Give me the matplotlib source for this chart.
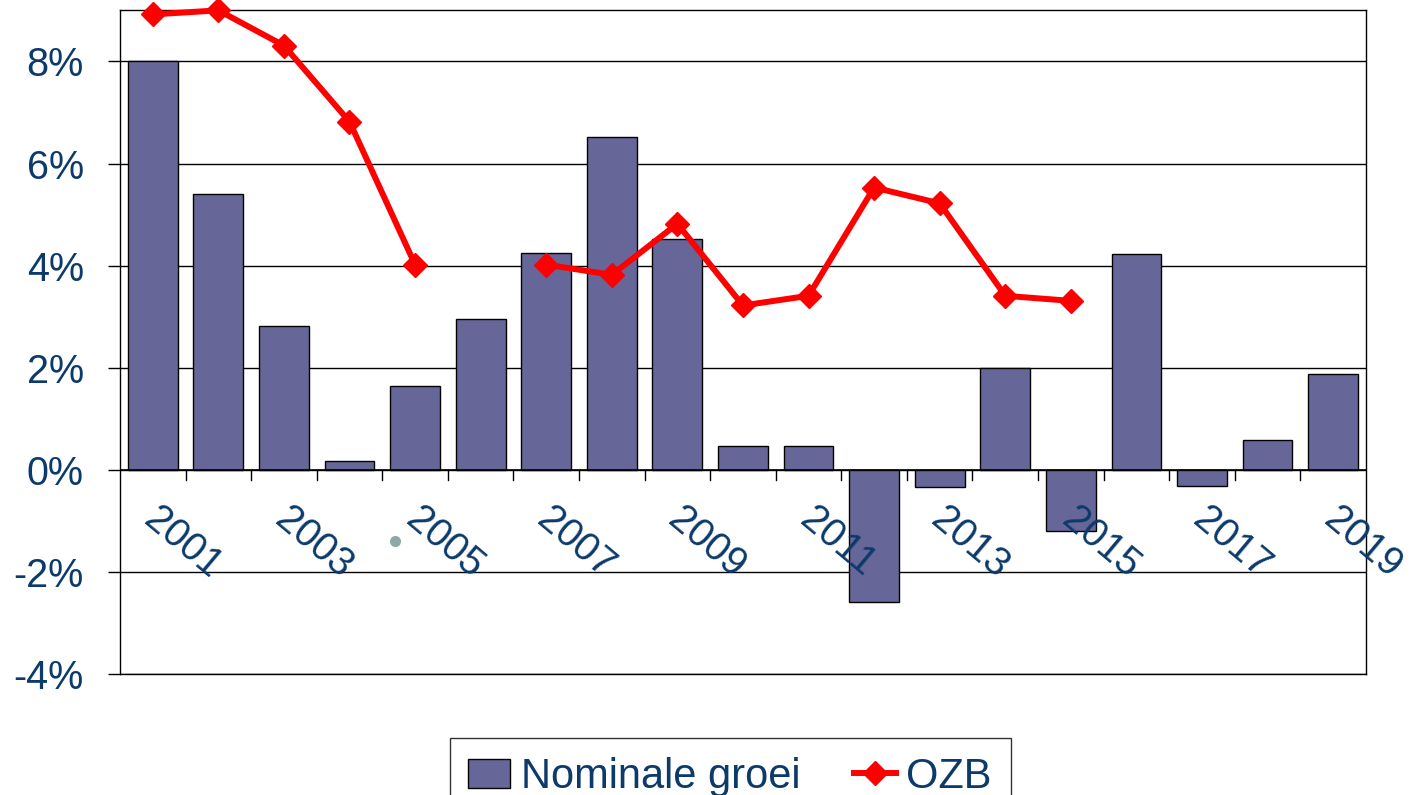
import numpy as np
import matplotlib.pyplot as plt
from matplotlib.ticker import FuncFormatter

plt.rcParams['font.family'] = ['Liberation Sans', 'DejaVu Sans']

years = list(range(2001, 2020))
nominale_groei = [8.0, 5.4, 2.82, 0.17, 1.65, 2.96, 4.24, 6.51, 4.53, 0.47,
                  0.47, -2.59, -0.33, 2.0, -1.2, 4.22, -0.31, 0.59, 1.88]
ozb = [8.92, 9.0, 8.31, 6.82, 4.02, np.nan, 4.02, 3.82, 4.82, 3.22,
       3.41, 5.53, 5.22, 3.41, 3.31, np.nan, np.nan, np.nan, np.nan]
label_years = years[::2]

navy = '#0b3a6b'
fs = 28.5
x = np.arange(len(years))

fig = plt.figure(figsize=(14.13, 7.95), dpi=100)
ax = fig.add_axes([0.0849, 0.152, 0.8818, 0.835])

ax.set_axisbelow(True)
ax.yaxis.grid(True, color='black', linewidth=1.0)
bars = ax.bar(x, nominale_groei, width=0.76, color='#666699', edgecolor='black',
              linewidth=1.0, label='Nominale groei', zorder=2)
line, = ax.plot(x, ozb, color='red', linewidth=4.3, marker='D', markersize=12.5,
                label='OZB', zorder=3, clip_on=False)

ax.set_xlim(-0.5, len(years) - 0.5)
ax.set_ylim(-4, 9)
ax.set_yticks([-4, -2, 0, 2, 4, 6, 8])
ax.yaxis.set_major_formatter(FuncFormatter(lambda v, p: f'{v:.0f}%'))
ax.tick_params(axis='y', labelsize=fs, labelcolor=navy, direction='out',
               length=9, width=1, pad=17)
ax.set_xticks([])
for s in ax.spines.values():
    s.set_linewidth(1.0)

# x axis at zero with ticks between categories
ax.axhline(0, color='black', linewidth=1.2, zorder=2.5)
for b in np.arange(0.5, len(years) - 1, 1.0):
    ax.plot([b, b], [0, -0.2], color='black', linewidth=1.0, zorder=2.5)

for yr in label_years:
    i = years.index(yr)
    ax.annotate(str(yr), xy=(i, 0), xytext=(6, -22), textcoords='offset points',
                rotation=-40, rotation_mode='anchor', ha='left', va='top',
                fontsize=fs, color=navy, annotation_clip=False)

# small grey dot in the original picture
ax.plot([3.69], [-1.39], marker='o', markersize=7, color='#8fa9a9',
        markeredgecolor='#8fa9a9', zorder=4)

leg = fig.legend(handles=[bars, line], loc='upper center',
                 bbox_to_anchor=(0.5167, 0.0717), ncol=2, frameon=True,
                 fancybox=False, edgecolor='black', fontsize=30,
                 handlelength=1.0, handletextpad=0.25, columnspacing=1.3,
                 borderpad=0.45, borderaxespad=0)
for t in leg.get_texts():
    t.set_color(navy)
leg.get_frame().set_linewidth(1.0)

fig.savefig('out.png', dpi=100)
